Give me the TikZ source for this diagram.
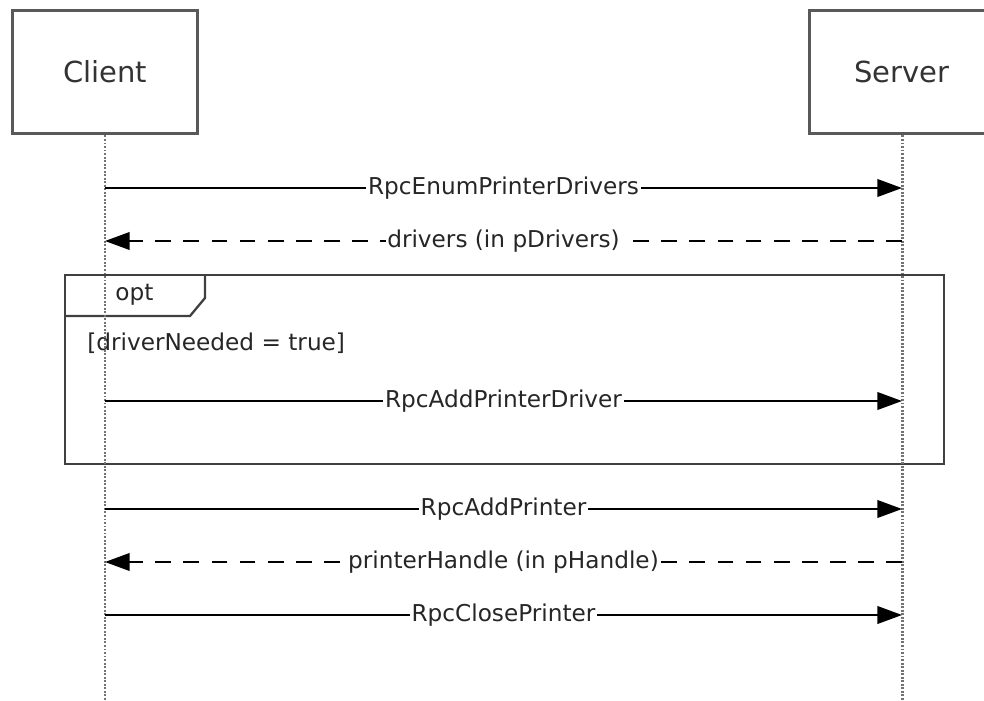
\documentclass[tikz,border=0pt]{standalone}
\usepackage{fontspec}
\setmainfont{DejaVu Sans}
\usepackage{tikz}
\usetikzlibrary{arrows.meta,calc,positioning}
\tikzset{%
	actor/.style    = {draw=black!65, line width=1.7pt, rectangle, minimum width=3.72cm, minimum height=2.48cm, text=black!80, font=\fontsize{16.5}{20}\selectfont},
	lifeline/.style = {draw=black!55, line width=1.7pt, dash pattern=on 1.1pt off 0.9pt},
	frame/.style    = {draw=black!75, line width=1.3pt},
	msg/.style      = {line width=1.1pt, -{Triangle[length=14pt,width=10pt]}},
	reply/.style    = {msg, dash pattern=on 9pt off 7pt},
	msglabel/.style = {fill=white, inner sep=1pt, text=black!85, font=\fontsize{13.2}{16}\selectfont},
	guard/.style    = {inner sep=0pt, text=black!85, font=\fontsize{13.2}{16}\selectfont},
}
\begin{document}
\begin{tikzpicture}[x=0.02cm,y=-0.02cm]
	\useasboundingbox (0,0) rectangle (984,700);
	\node [actor] (client) at (105,72) {Client};
	\node [actor] (server) at (902,72) {Server};
	\coordinate (bottom) at (0,700);
	
	% opt fragment
	\node [frame, rectangle, minimum width=17.58cm, minimum height=3.78cm, anchor=north west, inner sep=0pt] (optbox) at (64,274) {};
	\draw [frame] (optbox.north west) ++(141,0) -- ++(0,24) -- ++(-15,18) -- ++(-126,0);
	\node [guard, anchor=west] (optlabel) at (115,295) {opt};
	\node [guard, anchor=west] (cond) at (87,343) {[driverNeeded = true]};
	
	\draw [lifeline] (client.south) -- (client.south |- bottom);
	\draw [lifeline] (server.south) -- (server.south |- bottom);
	
	\coordinate (m1) at (0,188);
	\coordinate (m2) at (0,241);
	\coordinate (m3) at (0,401);
	\coordinate (m4) at (0,509);
	\coordinate (m5) at (0,562);
	\coordinate (m6) at (0,615);
	
	\draw [msg] (client |- m1) -- node[msglabel] {RpcEnumPrinterDrivers} (server |- m1);
	\draw [reply] (server |- m2) -- node[msglabel] {drivers (in pDrivers)} (client |- m2);
	\draw [msg] (client |- m3) -- node[msglabel] {RpcAddPrinterDriver} (server |- m3);
	\draw [msg] (client |- m4) -- node[msglabel] {RpcAddPrinter} (server |- m4);
	\draw [reply] (server |- m5) -- node[msglabel] {printerHandle (in pHandle)} (client |- m5);
	\draw [msg] (client |- m6) -- node[msglabel] {RpcClosePrinter} (server |- m6);
\end{tikzpicture}
\end{document}
